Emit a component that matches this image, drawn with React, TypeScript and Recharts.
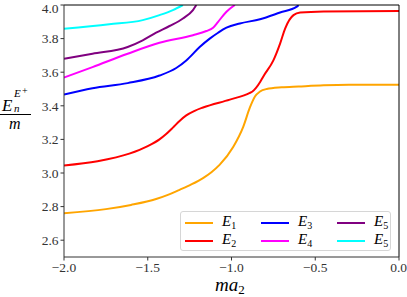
import { LineChart, Line, XAxis, YAxis, ReferenceLine, Label } from "recharts"

// x positions (ma2) and energies, one pair of arrays per level
const e1X = [-2.0, -1.75, -1.6, -1.45, -1.38, -1.31, -1.24, -1.17, -1.12, -1.07, -0.99, -0.93, -0.89, -0.86, -0.83, -0.79, -0.7, -0.6, -0.45, -0.3, 0.0]
const e1Y = [2.76, 2.785, 2.81, 2.845, 2.87, 2.9, 2.932, 2.97, 3.005, 3.05, 3.155, 3.275, 3.39, 3.455, 3.485, 3.5, 3.51, 3.515, 3.522, 3.525, 3.525]

const e2X = [-2.0, -1.8, -1.61, -1.5, -1.43, -1.39, -1.35, -1.31, -1.27, -1.22, -1.17, -1.01, -0.89, -0.875, -0.855, -0.83, -0.81, -0.75, -0.71, -0.68, -0.63, -0.59, -0.45, 0.0]
const e2Y = [3.045, 3.07, 3.115, 3.16, 3.2, 3.232, 3.27, 3.31, 3.343, 3.37, 3.39, 3.437, 3.477, 3.485, 3.505, 3.54, 3.575, 3.67, 3.77, 3.86, 3.94, 3.955, 3.962, 3.965]

const e3X = [-2.0, -1.83, -1.62, -1.43, -1.33, -1.27, -1.19, -1.13, -1.08, -1.03, -0.95, -0.83, -0.71, -0.61, -0.6]
const e3Y = [3.467, 3.505, 3.535, 3.58, 3.625, 3.67, 3.75, 3.8, 3.835, 3.865, 3.89, 3.915, 3.955, 3.99, 4.0]

const e4X = [-2.0, -1.83, -1.62, -1.43, -1.23, -1.15, -1.11, -1.08, -1.03, -0.98]
const e4Y = [3.568, 3.63, 3.71, 3.775, 3.82, 3.845, 3.865, 3.9, 3.96, 4.0]

const e5X = [-2.0, -1.83, -1.62, -1.53, -1.45, -1.37, -1.29, -1.23, -1.21]
const e5Y = [3.68, 3.71, 3.75, 3.79, 3.835, 3.875, 3.92, 3.97, 4.0]

const e6X = [-2.0, -1.73, -1.53, -1.43, -1.35, -1.29]
const e6Y = [3.858, 3.885, 3.91, 3.94, 3.97, 4.0]

const xTicks = [-2.0, -1.5, -1.0, -0.5, 0.0]
const yTicks = [2.6, 2.8, 3.0, 3.2, 3.4, 3.6, 3.8, 4.0]

const series = [
  { name: "1", color: "#ffa500", xs: e1X, ys: e1Y },
  { name: "2", color: "#ff0000", xs: e2X, ys: e2Y },
  { name: "3", color: "#0000ff", xs: e3X, ys: e3Y },
  { name: "4", color: "#ff00ff", xs: e4X, ys: e4Y },
  { name: "5", color: "#800080", xs: e5X, ys: e5Y },
  { name: "5", color: "#00ffff", xs: e6X, ys: e6Y },
]

const font = "'Liberation Serif', 'DejaVu Serif', serif"
const fmt = (v: number) => v.toFixed(1).replace("-", "\u2212")

function YLabel() {
  return (
    <g fontFamily={font} fontStyle="italic" fill="#000">
      <text x={2} y={111} fontSize={17}>E</text>
      <text x={14} y={112} fontSize={11}>n</text>
      <text x={14} y={97} fontSize={11}>E</text>
      <text x={22} y={94} fontSize={10} fontStyle="normal">+</text>
      <line x1={0} x2={31} y1={114.5} y2={114.5} stroke="#000" strokeWidth={1} />
      <text x={9} y={129} fontSize={16}>m</text>
    </g>
  )
}

function XLabel() {
  return (
    <text x={215} y={291} fontFamily={font} fontStyle="italic" fontSize={19} fill="#000">
      ma
      <tspan fontSize={13} fontStyle="normal" dy={3}>2</tspan>
    </text>
  )
}

// legend is laid out column-first like matplotlib's ncol=3
function LegendBox() {
  const order = [0, 2, 4, 1, 3, 5]
  return (
    <div
      style={{
        position: "absolute",
        left: 180,
        top: 211,
        width: 211,
        height: 40,
        border: "1px solid #d6d6d6",
        borderRadius: 3,
        background: "rgba(255,255,255,0.8)",
        display: "grid",
        gridTemplateColumns: "76px 76px 59px",
        gridTemplateRows: "18px 18px",
        paddingTop: 2,
        boxSizing: "border-box",
        fontFamily: font,
      }}
    >
      {order.map((i) => {
        const s = series[i]
        return (
          <div key={i} style={{ display: "flex", alignItems: "center", paddingLeft: 4 }}>
            <span style={{ display: "inline-block", width: 28, height: 2, background: s.color }} />
            <span style={{ marginLeft: 9, fontSize: 15, fontStyle: "italic", lineHeight: "15px" }}>
              E<sub style={{ fontSize: 10, fontStyle: "normal", verticalAlign: "-3px" }}>{s.name}</sub>
            </span>
          </div>
        )
      })}
    </div>
  )
}

export default function App() {
  return (
    <div style={{ position: "absolute", left: 0, top: 0, width: 407, height: 297, background: "#fff" }}>
      <LineChart width={407} height={297} margin={{ top: 5, right: 8, bottom: 10, left: 0 }}>
        <XAxis
          type="number"
          dataKey="x"
          domain={[-2, 0]}
          ticks={xTicks}
          tickFormatter={fmt}
          allowDataOverflow
          stroke="#333"
          tickSize={3.5}
          tickMargin={2}
          height={30}
          tick={{ fill: "#333", fontFamily: font, fontSize: 13.5 }}
        >
          <Label content={() => <XLabel />} />
        </XAxis>
        <YAxis
          type="number"
          dataKey="y"
          domain={[2.5, 4.0]}
          ticks={yTicks}
          tickFormatter={fmt}
          allowDataOverflow
          stroke="#333"
          tickSize={3.5}
          tickMargin={2}
          width={64}
          tick={{ fill: "#333", fontFamily: font, fontSize: 13.5 }}
        >
          <Label content={() => <YLabel />} />
        </YAxis>
        {series.map((s, i) => (
          <Line
            key={i}
            data={s.xs.map((x, j) => ({ x, y: s.ys[j] }))}
            dataKey="y"
            type="monotone"
            stroke={s.color}
            strokeWidth={2}
            dot={false}
            isAnimationActive={false}
          />
        ))}
        <ReferenceLine y={4.0} stroke="#000" strokeWidth={1} />
        <ReferenceLine x={0} stroke="#000" strokeWidth={1} />
      </LineChart>
      <LegendBox />
    </div>
  )
}
